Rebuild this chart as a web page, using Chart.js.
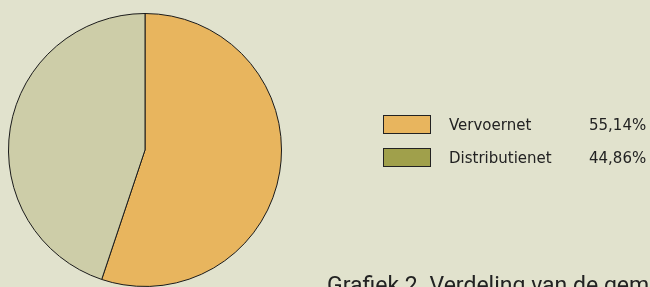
<!DOCTYPE html>
<html>
<head>
<meta charset="utf-8">
<script src="https://cdn.jsdelivr.net/npm/chart.js@4"></script>
<style>
  html, body { margin:0; padding:0; width:650px; height:287px; overflow:hidden; background:#E1E2CD; }
  #wrap { position:relative; width:650px; height:287px; overflow:hidden; }
  #c { position:absolute; left:0; top:0; }
  #legend { position:absolute; left:383px; top:115px; font-family:"DejaVu Sans", sans-serif; font-size:15px; color:#222; }
  .row { position:relative; height:33px; }
  .box { position:absolute; left:0; top:0; width:46px; height:17px; border:1px solid #222; box-sizing:content-box; }
  .lab { position:absolute; left:66px; top:0px; line-height:20px; white-space:nowrap; }
  .pct { position:absolute; left:206px; top:0px; line-height:20px; white-space:nowrap; }
  #title { position:absolute; left:327px; top:274px; font-family:Roboto, sans-serif; font-size:23px; line-height:24px; color:#222; white-space:nowrap; }
</style>
</head>
<body>
<div id="wrap">
  <canvas id="c" width="650" height="287"></canvas>
  <div id="legend"></div>
  <div id="title">Grafiek 2. Verdeling van de gemeten hoeveelheden</div>
</div>
<script>
const categories = ["Vervoernet", "Distributienet"];
const values = [55.14, 44.86];
const pctLabels = ["55,14%", "44,86%"];
const sliceColors = ["#E8B55E", "#CDCDA8"];
const legendColors = ["#E8B55E", "#A0A04B"];

const legend = document.getElementById('legend');
categories.forEach((c, i) => {
  const row = document.createElement('div');
  row.className = 'row';
  row.innerHTML = '<div class="box" style="background:' + legendColors[i] + '"></div>' +
    '<div class="lab">' + c + '</div><div class="pct">' + pctLabels[i] + '</div>';
  legend.appendChild(row);
});

new Chart(document.getElementById('c'), {
  type: 'pie',
  data: {
    labels: categories,
    datasets: [{
      data: values,
      backgroundColor: sliceColors,
      borderColor: '#1a1a1a',
      borderWidth: 1
    }]
  },
  options: {
    responsive: false,
    animation: false,
    layout: { padding: { left: 8, right: 368, top: 13, bottom: 0 } },
    plugins: { legend: { display: false }, tooltip: { enabled: false } }
  }
});
</script>
</body>
</html>
